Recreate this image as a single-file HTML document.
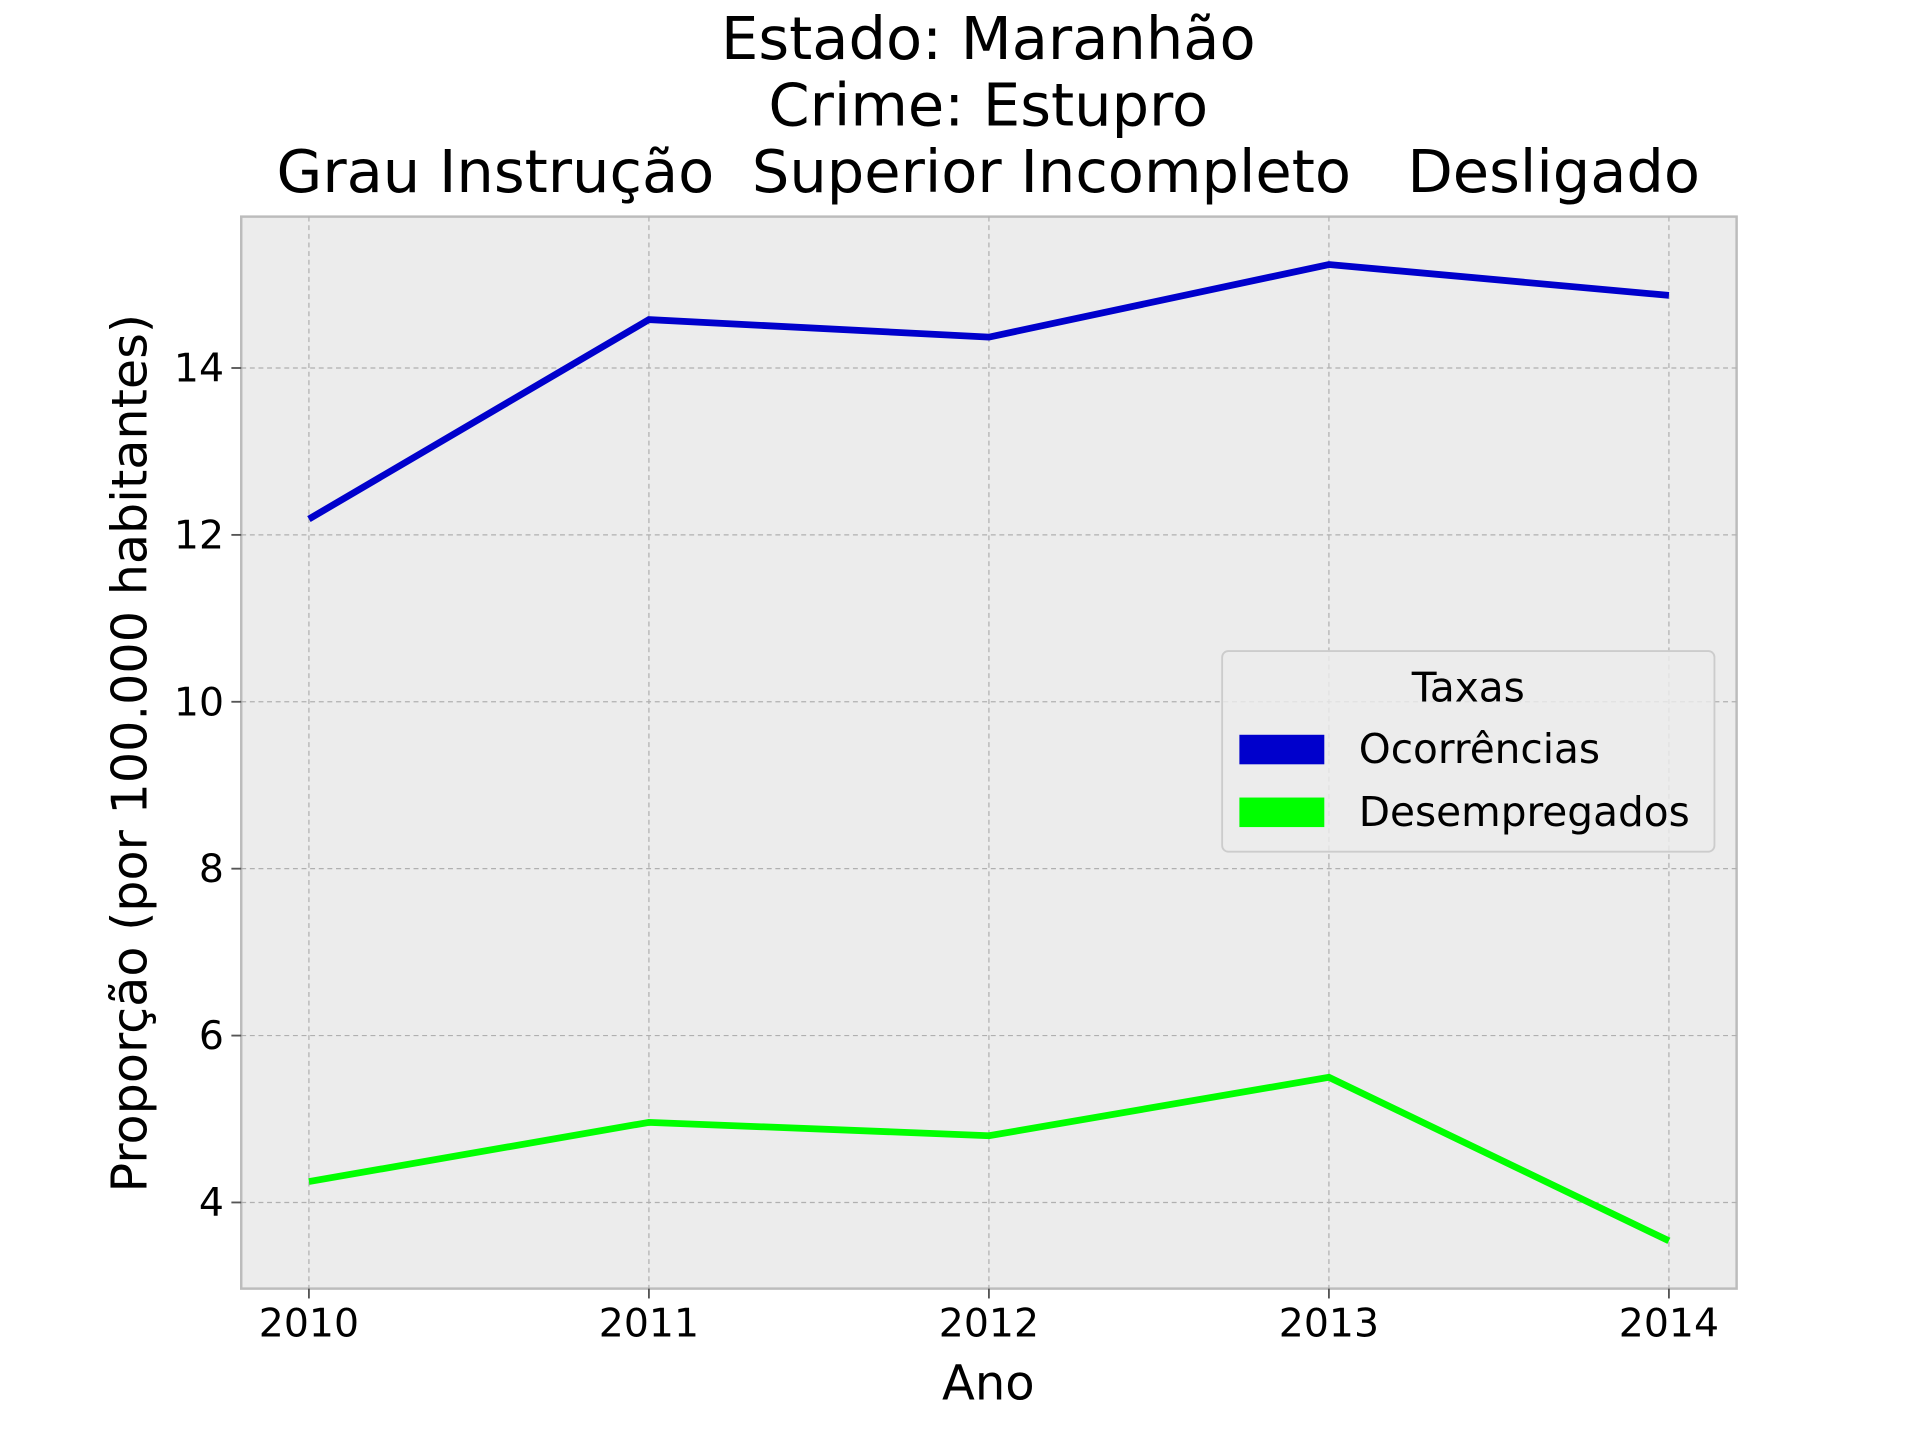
<!DOCTYPE html>
<html><head><meta charset="utf-8"><style>
html,body{margin:0;padding:0;background:#fff;width:1920px;height:1440px;overflow:hidden}
svg{display:block;font-family:"DejaVu Sans","Liberation Sans",sans-serif}
</style></head><body>
<svg id="chart" width="1920" height="1440" viewBox="0 0 1560 1170" xmlns="http://www.w3.org/2000/svg">
<g font-size="48" text-anchor="middle" fill="#000">
<text x="803" y="48">Estado: Maranhão</text>
<text x="803" y="102">Crime: Estupro</text>
<text x="803" y="156" xml:space="preserve">Grau Instrução  Superior Incompleto   Desligado</text>
</g>
<rect x="196" y="176" width="1215" height="871" fill="#ececec" stroke="#bcbcbc" stroke-width="2"/>
<g id="grid"></g>
<g id="series"></g>
<g id="ticks" font-size="32" fill="#000"></g>
<text x="803" y="1137" font-size="39" text-anchor="middle">Ano</text>
<text transform="translate(119,612) rotate(-90)" font-size="40" text-anchor="middle">Proporção (por 100.000 habitantes)</text>
<g>
<rect x="993" y="529" width="400" height="163" rx="5" fill="#ececec" fill-opacity="0.8" stroke="#cccccc" stroke-width="1.5"/>
<text x="1193" y="570" font-size="33" text-anchor="middle">Taxas</text>
<g><rect x="1007" y="597" width="69" height="24" fill="#0000cc"/><text x="1104" y="620" font-size="33">Ocorrências</text></g>
<g><rect x="1007" y="648" width="69" height="24" fill="#00ff00"/><text x="1104" y="671" font-size="33">Desempregados</text></g>
</g>
</svg>
<script>
const years = [2010, 2011, 2012, 2013, 2014];
const ocorrencias = [12.19, 14.58, 14.37, 15.24, 14.87];
const desempregados = [4.25, 4.96, 4.80, 5.50, 3.54];
const yTicks = [4, 6, 8, 10, 12, 14];
const NS = "http://www.w3.org/2000/svg";
function xs(v){return 251 + (v-2010)*(1356-251)/4;}
function ys(v){return 977 - (v-4)*67.8;}
function mk(tag, attrs, parent){const e=document.createElementNS(NS,tag);for(const k in attrs)e.setAttribute(k,attrs[k]);parent.appendChild(e);return e;}
const grid=document.getElementById('grid'), ticks=document.getElementById('ticks'), series=document.getElementById('series');
years.forEach(y=>{
  const l=mk('line',{x1:xs(y),x2:xs(y),y1:176,y2:1047,stroke:'#b0b0b0','stroke-width':1,'stroke-dasharray':'4,3'},grid);
  
  
  const t=mk('line',{x1:xs(y),x2:xs(y),y1:1047,y2:1055,stroke:'#555','stroke-width':1.5},ticks);
  
  
  const tx=mk('text',{x:xs(y),y:1086,'text-anchor':'middle'},ticks);tx.textContent=y;
  
  
});
yTicks.forEach(v=>{
  const l=mk('line',{x1:196,x2:1411,y1:ys(v),y2:ys(v),stroke:'#b0b0b0','stroke-width':1,'stroke-dasharray':'4,3'},grid);
  
  
  const t=mk('line',{x1:188,x2:196,y1:ys(v),y2:ys(v),stroke:'#555','stroke-width':1.5},ticks);
  
  
  const tx=mk('text',{x:182,y:ys(v)+11,'text-anchor':'end'},ticks);tx.textContent=v;
  
  
});
function line(vals,color,name){
  const p=mk('polyline',{points:vals.map((v,i)=>xs(years[i])+','+ys(v)).join(' '),fill:'none',stroke:color,'stroke-width':5.5},series);
  
  
}
line(ocorrencias,'#0000cc','ocorrencias-line');
line(desempregados,'#00ff00','desempregados-line');
</script>
</body></html>
